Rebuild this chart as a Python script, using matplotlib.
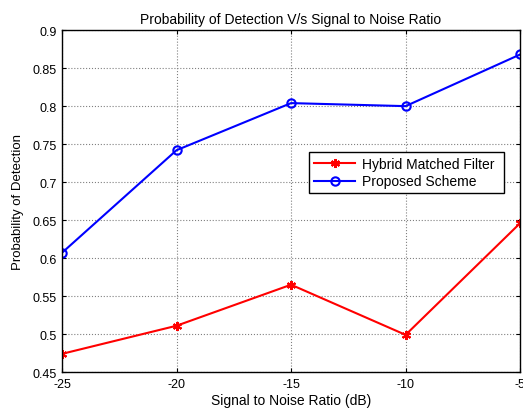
import matplotlib
matplotlib.use("Agg")
import matplotlib.pyplot as plt

snr = [-25, -20, -15, -10, -5]
hybrid = [0.474, 0.511, 0.565, 0.499, 0.646]
proposed = [0.607, 0.742, 0.804, 0.800, 0.868]
yticks = [0.45, 0.5, 0.55, 0.6, 0.65, 0.7, 0.75, 0.8, 0.85, 0.9]
ytick_labels = ["0.45", "0.5", "0.55", "0.6", "0.65", "0.7", "0.75", "0.8", "0.85", "0.9"]
xticks = [-25, -20, -15, -10, -5]

plt.rcParams['font.family'] = ['Liberation Sans', 'DejaVu Sans']
fig = plt.figure(figsize=(5.23, 4.10), dpi=100)
ax = fig.add_axes([0.1185, 0.090, 0.876, 0.834])

ax.plot(snr, hybrid, color='red', marker=(6, 2, 0), markersize=6.5, markeredgewidth=1.5,
        linewidth=1.5, label='Hybrid Matched Filter')
ax.plot(snr, proposed, color='blue', marker='o', markersize=6, markerfacecolor='none',
        markeredgewidth=1.5, linewidth=1.5, label='Proposed Scheme')

ax.set_xlim(-25, -5)
ax.set_ylim(0.45, 0.9)
ax.set_xticks(xticks)
ax.set_xticklabels([str(x) for x in xticks])
ax.set_yticks(yticks)
ax.set_yticklabels(ytick_labels)
ax.tick_params(direction='in', top=True, right=True, labelsize=9, length=3, pad=4)
ax.grid(True, linestyle=':', color='#808080', linewidth=0.8)
for s in ax.spines.values():
    s.set_linewidth(1.0)

ax.set_title('Probability of Detection V/s Signal to Noise Ratio', fontsize=10, pad=5)
ax.set_xlabel('Signal to Noise Ratio (dB)', fontsize=10, labelpad=2.5)
ax.set_ylabel('Probability of Detection', fontsize=9.5, labelpad=6)

leg = ax.legend(loc='lower left', bbox_to_anchor=(0.539, 0.523, 0.426, 0.123), mode='expand',
                fontsize=10, fancybox=False, edgecolor='black', framealpha=1,
                borderaxespad=0, handlelength=3, handletextpad=0.5, borderpad=0.35,
                labelspacing=0.25)
leg.get_frame().set_linewidth(1.0)

fig.savefig('out.png', dpi=100)
